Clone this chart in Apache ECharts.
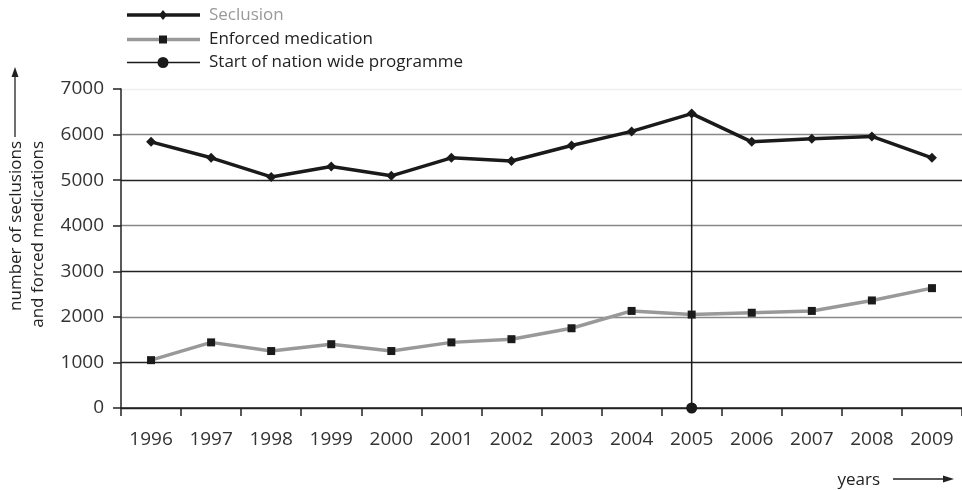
<!DOCTYPE html>
<html><head><meta charset="utf-8">
<script src="https://cdn.jsdelivr.net/npm/echarts@6/dist/echarts.min.js"></script>
<style>html,body{margin:0;padding:0;background:#fff}#c{width:962px;height:490px}</style>
</head><body><div id="c"></div>
<script>
const years = ['1996','1997','1998','1999','2000','2001','2002','2003','2004','2005','2006','2007','2008','2009'];
const seclusion = [5840,5490,5070,5300,5095,5490,5420,5760,6070,6460,5840,5910,5960,5490];
const enforced = [1050,1440,1250,1400,1250,1440,1510,1750,2130,2050,2090,2130,2360,2630];
const programmeYear = '2005';
const programmeTop = 6460;
const legendNames = ['Seclusion','Enforced medication','Start of nation wide programme'];
const FONT = 'Open Sans';

const LX1 = 127, LX2 = 200, LM = 163, LT = 209;
const rows = [15, 39.5, 62.5];
const legendGraphics = [
  {type:'line',shape:{x1:LX1,y1:rows[0],x2:LX2,y2:rows[0]},style:{stroke:'#1a1a1a',lineWidth:3.5}},
  {type:'polygon',shape:{points:[[LM,rows[0]-5],[LM+4,rows[0]],[LM,rows[0]+5],[LM-4,rows[0]]]},style:{fill:'#1a1a1a'}},
  {type:'text',x:LT,y:rows[0],style:{text:legendNames[0],fontFamily:FONT,fontSize:17,fill:'#999',verticalAlign:'middle'}},
  {type:'line',shape:{x1:LX1,y1:rows[1],x2:LX2,y2:rows[1]},style:{stroke:'#999',lineWidth:3.5}},
  {type:'rect',shape:{x:LM-4,y:rows[1]-4,width:8,height:8},style:{fill:'#1a1a1a'}},
  {type:'text',x:LT,y:rows[1],style:{text:legendNames[1],fontFamily:FONT,fontSize:17,fill:'#222',verticalAlign:'middle'}},
  {type:'line',shape:{x1:LX1,y1:rows[2],x2:LX2,y2:rows[2]},style:{stroke:'#1a1a1a',lineWidth:1.5}},
  {type:'circle',shape:{cx:LM,cy:rows[2],r:5.5},style:{fill:'#1a1a1a'}},
  {type:'text',x:LT,y:rows[2],style:{text:legendNames[2],fontFamily:FONT,fontSize:17,fill:'#222',verticalAlign:'middle'}}
];

const chart = echarts.init(document.getElementById('c'));
chart.setOption({
  animation:false,
  textStyle:{fontFamily:FONT},
  grid:{left:121,top:89,bottom:82,right:-5},
  xAxis:{
    type:'category', data:years, boundaryGap:true,
    axisLine:{lineStyle:{color:'#222',width:1.5}},
    axisTick:{show:true,length:8,lineStyle:{color:'#222',width:1.5}},
    axisLabel:{fontFamily:FONT,fontSize:19,color:'#333',margin:22}
  },
  yAxis:{
    type:'value', min:0, max:7000, interval:1000,
    axisLine:{show:true,lineStyle:{color:'#222',width:1.5}},
    axisTick:{show:true,length:8,lineStyle:{color:'#222',width:1.5}},
    axisLabel:{fontFamily:FONT,fontSize:19,color:'#333',margin:17,formatter:v=>String(v)},
    splitLine:{show:true,lineStyle:{width:1.3,color:['#222','#222','#888','#222','#888','#222','#888','#eee']}}
  },
  series:[
    {name:legendNames[0],type:'line',data:seclusion,symbol:'diamond',symbolSize:10,
     lineStyle:{color:'#1a1a1a',width:3.5},itemStyle:{color:'#1a1a1a'},z:3},
    {name:legendNames[1],type:'line',data:enforced,symbol:'rect',symbolSize:8,
     lineStyle:{color:'#999',width:3.5},itemStyle:{color:'#1a1a1a'},z:3},
    {name:legendNames[2],type:'line',
     data:[{value:[programmeYear,0],symbol:'circle',symbolSize:11},{value:[programmeYear,programmeTop],symbol:'none'}],
     symbol:'circle',symbolSize:11,
     lineStyle:{color:'#1a1a1a',width:1.5},itemStyle:{color:'#1a1a1a'},z:4}
  ],
  graphic:legendGraphics.concat([
    {type:'text',x:16,y:141,rotation:Math.PI/2,style:{text:'number of seclusions',fontFamily:FONT,fontSize:17,fill:'#222',align:'right',verticalAlign:'middle'}},
    {type:'text',x:38,y:141,rotation:Math.PI/2,style:{text:'and forced medications',fontFamily:FONT,fontSize:17,fill:'#222',align:'right',verticalAlign:'middle'}},
    {type:'line',shape:{x1:15,y1:137,x2:15,y2:74},style:{stroke:'#222',lineWidth:1.3}},
    {type:'polygon',shape:{points:[[15,67],[11.5,77],[18.5,77]]},style:{fill:'#222'}},
    {type:'text',x:880,y:480,style:{text:'years',fontFamily:FONT,fontSize:17,fill:'#222',align:'right',verticalAlign:'middle'}},
    {type:'line',shape:{x1:893,y1:479,x2:946,y2:479},style:{stroke:'#222',lineWidth:1.3}},
    {type:'polygon',shape:{points:[[954,479],[943,475.5],[943,482.5]]},style:{fill:'#222'}}
  ])
});
</script></body></html>
